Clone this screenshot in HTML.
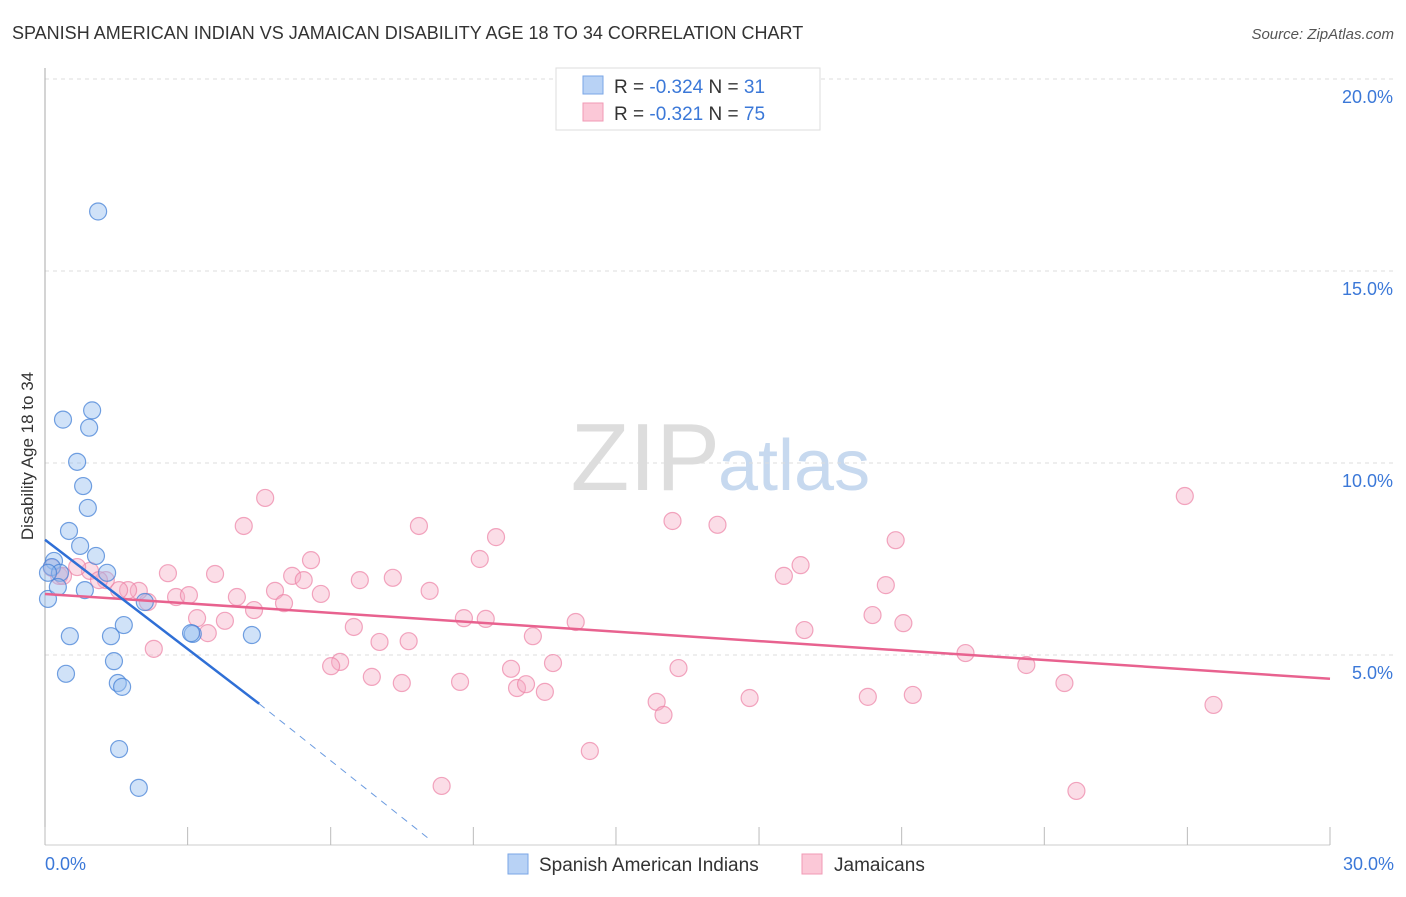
<!DOCTYPE html>
<html><head><meta charset="utf-8"><style>
body{margin:0;background:#fff;font-family:"Liberation Sans",sans-serif;}
svg text{font-family:"Liberation Sans",sans-serif;}
</style></head><body>
<svg width="1406" height="892" xmlns="http://www.w3.org/2000/svg">
<text x="12" y="39" font-size="18" fill="#333">SPANISH AMERICAN INDIAN VS JAMAICAN DISABILITY AGE 18 TO 34 CORRELATION CHART</text>
<text x="1394" y="39" font-size="15" fill="#555" text-anchor="end" font-style="italic">Source: ZipAtlas.com</text>
<text x="720" y="490" font-size="96" fill="#ddd" text-anchor="end" font-family="Liberation Serif">ZIP</text>
<text x="718" y="490" font-size="72" fill="#c7d9ef">atlas</text>
<g id="grid"></g>
<line x1="45" y1="68" x2="45" y2="845" stroke="#aaa"/>
<line x1="45" y1="845" x2="1330" y2="845" stroke="#ccc"/>
<g id="xticks"></g>
<text transform="translate(33,456) rotate(-90)" font-size="17" fill="#333" text-anchor="middle">Disability Age 18 to 34</text>
<text x="45" y="870" font-size="18" fill="#3b78d8">0.0%</text>
<text x="1394" y="870" font-size="18" fill="#3b78d8" text-anchor="end">30.0%</text>
<g id="pts"></g>
<g id="lines"></g>
<g>
<rect x="556" y="68" width="264" height="62" fill="#fff" stroke="#ddd"/>
<rect x="583" y="76" width="20" height="18" fill="#b8d2f5" stroke="#7aa6e6"/>
<rect x="583" y="103" width="20" height="18" fill="#fbc8d7" stroke="#f09ab4"/>
<text x="614" y="93" font-size="19" fill="#333">R = <tspan fill="#3b78d8">-0.324</tspan>   N = <tspan fill="#3b78d8"> 31</tspan></text>
<text x="614" y="120" font-size="19" fill="#333">R = <tspan fill="#3b78d8"> -0.321</tspan>   N = <tspan fill="#3b78d8">75</tspan></text>
</g>
<g>
<rect x="508" y="854" width="20" height="20" fill="#b8d2f5" stroke="#7aa6e6"/>
<text x="539" y="871" font-size="19" fill="#333">Spanish American Indians</text>
<rect x="802" y="854" width="20" height="20" fill="#fbc8d7" stroke="#f09ab4"/>
<text x="834" y="871" font-size="19" fill="#333">Jamaicans</text>
</g>
</svg>
<script>
const yTicks=[5,10,15,20];
const xTicks=[0,3.33,6.67,10,13.33,16.67,20,23.33,26.67,30];
const blueX=[1.24,1.10,0.42,1.03,0.75,0.89,1.00,0.56,0.82,1.19,0.21,1.45,0.16,0.35,0.07,0.30,0.93,2.33,1.84,0.58,1.54,3.45,3.41,4.83,1.61,0.49,1.70,1.80,1.73,2.19,0.07];
const blueY=[16.55,11.37,11.13,10.92,10.03,9.40,8.83,8.23,7.84,7.58,7.45,7.14,7.29,7.14,6.46,6.77,6.69,6.38,5.78,5.49,5.49,5.55,5.57,5.52,4.84,4.51,4.27,4.17,2.55,1.54,7.14];
const pinkX=[5.14,4.64,8.73,10.53,14.65,15.70,26.61,19.86,10.15,6.21,17.64,17.25,19.63,2.87,3.97,5.77,6.04,7.35,8.12,6.44,8.98,5.37,4.48,3.06,3.36,5.58,4.88,3.55,4.20,2.40,2.19,1.94,1.73,1.42,1.05,0.75,0.33,0.16,0.42,1.26,9.78,10.29,12.39,7.21,11.39,19.32,20.04,17.73,3.80,8.49,7.81,2.54,6.89,6.68,11.86,10.88,14.79,21.49,22.91,23.80,7.63,8.33,9.69,11.02,11.23,11.67,14.28,14.44,16.45,19.21,20.26,27.28,12.72,9.26,24.08];
const pinkY=[9.09,8.36,8.36,8.07,8.49,8.39,9.14,7.99,7.50,7.47,7.34,7.06,6.82,7.13,7.11,7.06,6.95,6.95,7.01,6.59,6.67,6.67,6.51,6.51,6.56,6.35,6.17,5.96,5.89,6.38,6.67,6.69,6.69,6.95,7.19,7.29,7.06,7.27,7.06,6.95,5.96,5.94,5.86,5.73,5.49,6.04,5.83,5.65,5.57,5.36,5.34,5.16,4.82,4.71,4.79,4.64,4.66,5.05,4.74,4.27,4.43,4.27,4.30,4.14,4.24,4.04,3.78,3.44,3.88,3.91,3.96,3.70,2.50,1.59,1.46];
const blueLine=[0,8.0,5.0,3.73,9.0,0.18];
const pinkLine=[0,6.59,30,4.38];
const NS="http://www.w3.org/2000/svg";
const sx=v=>45+v/30*1285, sy=v=>847-v/5*192;
const grid=document.getElementById('grid');
yTicks.forEach(t=>{
 const l=document.createElementNS(NS,'line');
 
 
 l.setAttribute('x1',45);l.setAttribute('x2',1394);l.setAttribute('y1',sy(t));l.setAttribute('y2',sy(t));
 l.setAttribute('stroke','#ddd');l.setAttribute('stroke-dasharray','4,4');grid.appendChild(l);
 const tx=document.createElementNS(NS,'text');
 
 
 tx.setAttribute('x',1393);tx.setAttribute('y',sy(t)+24);tx.setAttribute('text-anchor','end');
 tx.setAttribute('font-size','18');tx.setAttribute('fill','#3b78d8');tx.textContent=t.toFixed(1)+'%';grid.appendChild(tx);
});
const xt=document.getElementById('xticks');
xTicks.forEach(t=>{
 const l=document.createElementNS(NS,'line');
 
 
 l.setAttribute('x1',sx(t));l.setAttribute('x2',sx(t));l.setAttribute('y1',827);l.setAttribute('y2',845);
 l.setAttribute('stroke','#bbb');xt.appendChild(l);
});
const pts=document.getElementById('pts');
function dot(x,y,f,s,name){
 const c=document.createElementNS(NS,'circle');
 
 
 c.setAttribute('cx',sx(x));c.setAttribute('cy',sy(y));c.setAttribute('r',8.5);
 c.setAttribute('fill',f);c.setAttribute('stroke',s);c.setAttribute('stroke-width','1.2');pts.appendChild(c);
}
pinkX.forEach((x,i)=>dot(x,pinkY[i],'rgba(246,170,195,0.4)','rgba(236,130,165,0.7)','jamaican-point'));
blueX.forEach((x,i)=>dot(x,blueY[i],'rgba(150,190,240,0.45)','rgba(70,130,215,0.75)','spanish-american-indian-point'));
const lines=document.getElementById('lines');
function ln(x1,y1,x2,y2,c,w,dash,name){
 const l=document.createElementNS(NS,'line');
 
 
 l.setAttribute('x1',sx(x1));l.setAttribute('y1',sy(y1));l.setAttribute('x2',sx(x2));l.setAttribute('y2',sy(y2));
 l.setAttribute('stroke',c);l.setAttribute('stroke-width',w);if(dash)l.setAttribute('stroke-dasharray',dash);lines.appendChild(l);
}
ln(pinkLine[0],pinkLine[1],pinkLine[2],pinkLine[3],'#e8628f',2.5,null,'jamaican-trendline');
ln(blueLine[0],blueLine[1],blueLine[2],blueLine[3],'#2f6fd6',2.5,null,'spanish-trendline');
ln(blueLine[2],blueLine[3],blueLine[4],blueLine[5],'#6b9be0',1,'7,6','spanish-trendline-extension');
</script>
</body></html>
